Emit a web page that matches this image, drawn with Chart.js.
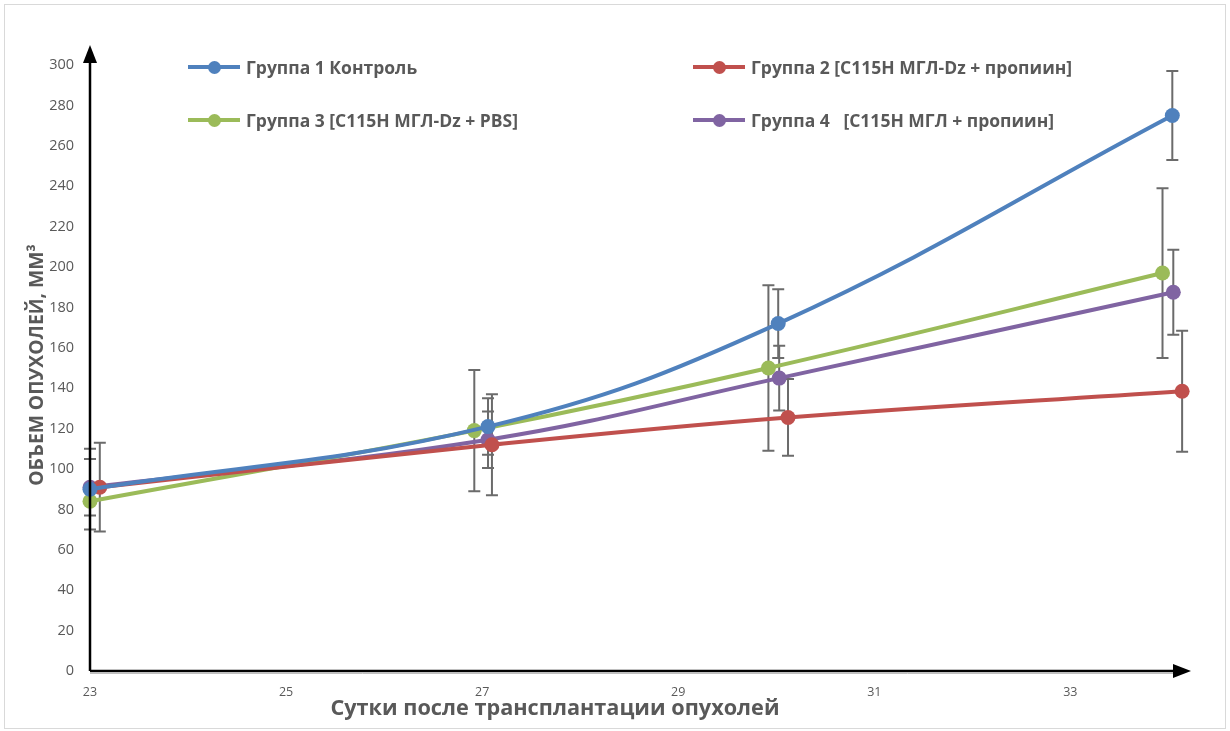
<!DOCTYPE html>
<html>
<head>
<meta charset="utf-8">
<script src="https://cdn.jsdelivr.net/npm/chart.js@4"></script>
<style>
  body { margin: 0; background: #fff; font-family: "Open Sans", sans-serif; }
  #wrap { position: relative; width: 1230px; height: 731px; }
  #frame { position: absolute; left: 4px; top: 4px; width: 1220px; height: 723px; border: 1px solid #d9d9d9; pointer-events: none; }
  .lg { position: absolute; display: flex; align-items: center; font-weight: bold; font-size: 17.5px; color: #595959; white-space: pre; }
  .lg .ln { position: relative; width: 52px; height: 4px; margin-right: 6px; }
  .lg .dot { position: absolute; left: 20px; top: -4.5px; width: 13px; height: 13px; border-radius: 50%; }
  #ytitle { position: absolute; left: 35px; top: 365px; transform: translate(-50%, -50%) rotate(-90deg); font-weight: bold; font-size: 19.3px; color: #595959; white-space: nowrap; }
  #xtitle { position: absolute; left: 555px; top: 706px; transform: translate(-50%, -50%); font-weight: bold; font-size: 21.7px; color: #595959; white-space: nowrap; }
</style>
</head>
<body>
<div id="wrap">
  <canvas id="chart" width="1230" height="731"></canvas>
  <div id="frame"></div>
  <div id="legend"></div>
  <div id="ytitle">ОБЪЕМ ОПУХОЛЕЙ, ММ³</div>
  <div id="xtitle">Сутки после трансплантации опухолей</div>
</div>
<script>
// tick labels
const xTicks = [23, 25, 27, 29, 31, 33];
const yTicks = [0, 20, 40, 60, 80, 100, 120, 140, 160, 180, 200, 220, 240, 260, 280, 300];

// series names
const names = [
  "Группа 1 Контроль",
  "Группа 2 [С115Н МГЛ-Dz + пропиин]",
  "Группа 3 [С115Н МГЛ-Dz + PBS]",
  "Группа 4   [С115Н МГЛ + пропиин]"
];
const colors = ["#4F81BD", "#C0504D", "#9BBB59", "#8064A2"];

// days (slightly shifted per group as in the original)
const days1 = [23, 27.06, 30.02, 34.04];
const days2 = [23.1, 27.1, 30.12, 34.14];
const days3 = [23, 26.92, 29.92, 33.94];
const days4 = [23, 27.06, 30.03, 34.05];

// tumour volume, mm3
const vol1 = [90, 121, 172, 275];
const vol2 = [91, 112, 125.5, 138.5];
const vol3 = [84, 119, 150, 197];
const vol4 = [91, 114.5, 145, 187.5];

// error (+/-)
const err1 = [20, 14, 17, 22];
const err2 = [22, 25, 19, 30];
const err3 = [null, 30, 41, 42];
const err4 = [14, 14, 16, 21];

const allDays = [days1, days2, days3, days4];
const allVols = [vol1, vol2, vol3, vol4];
const allErrs = [err1, err2, err3, err4];

// legend (html, two columns)
const legendPos = [[188, 68], [693, 68], [188, 121], [693, 121]];
const legendEl = document.getElementById("legend");
names.forEach((n, i) => {
  const d = document.createElement("div");
  d.className = "lg";
  d.style.left = legendPos[i][0] + "px";
  d.style.top = (legendPos[i][1] - 13) + "px";
  d.innerHTML = '<span class="ln" style="background:' + colors[i] + '"><span class="dot" style="background:' + colors[i] + '"></span></span>';
  d.appendChild(document.createTextNode(n));
  legendEl.appendChild(d);
});

const errorBars = {
  id: "errorBars",
  beforeDatasetsDraw(chart) {
    const ctx = chart.ctx;
    const ys = chart.scales.y;
    ctx.save();
    ctx.strokeStyle = "#6b6b6b";
    ctx.lineWidth = 2;
    chart.data.datasets.forEach((ds, di) => {
      const meta = chart.getDatasetMeta(di);
      meta.data.forEach((pt, i) => {
        const e = allErrs[di][i];
        if (e == null) return;
        const v = allVols[di][i];
        const top = ys.getPixelForValue(v + e);
        const bot = ys.getPixelForValue(v - e);
        ctx.beginPath();
        ctx.moveTo(pt.x, top); ctx.lineTo(pt.x, bot);
        ctx.moveTo(pt.x - 6, top); ctx.lineTo(pt.x + 6, top);
        ctx.moveTo(pt.x - 6, bot); ctx.lineTo(pt.x + 6, bot);
        ctx.stroke();
      });
    });
    ctx.restore();
  }
};

const arrowAxes = {
  id: "arrowAxes",
  afterDraw(chart) {
    const ctx = chart.ctx;
    const a = chart.chartArea;
    ctx.save();
    // excel's grey axis under the drawn one
    ctx.strokeStyle = "#bfbfbf";
    ctx.lineWidth = 1;
    ctx.beginPath();
    ctx.moveTo(a.left, a.bottom + 2.5); ctx.lineTo(1180, a.bottom + 2.5);
    ctx.stroke();
    ctx.strokeStyle = "#000";
    ctx.fillStyle = "#000";
    ctx.lineWidth = 2.5;
    ctx.beginPath();
    ctx.moveTo(a.left, a.bottom); ctx.lineTo(a.left, 58);
    ctx.moveTo(a.left, a.bottom); ctx.lineTo(1178, a.bottom);
    ctx.stroke();
    ctx.beginPath();
    ctx.moveTo(a.left, 45); ctx.lineTo(a.left - 7, 63); ctx.lineTo(a.left + 7, 63);
    ctx.closePath(); ctx.fill();
    ctx.beginPath();
    ctx.moveTo(1191, a.bottom); ctx.lineTo(1173, a.bottom - 7); ctx.lineTo(1173, a.bottom + 7);
    ctx.closePath(); ctx.fill();
    ctx.restore();
  }
};

new Chart(document.getElementById("chart"), {
  type: "line",
  data: {
    datasets: names.map((n, i) => ({
      label: n,
      data: allDays[i].map((d, j) => ({ x: d, y: allVols[i][j] })),
      borderColor: colors[i],
      backgroundColor: colors[i],
      borderWidth: 4,
      tension: 0.4,
      clip: false,
      pointRadius: 7.5,
      pointBorderWidth: 0,
      pointBackgroundColor: colors[i],
    })),
  },
  options: {
    responsive: false,
    animation: false,
    layout: { padding: { top: 65, right: 42, bottom: 0, left: 0 } },
    plugins: { legend: { display: false }, tooltip: { enabled: false } },
    scales: {
      x: {
        type: "linear",
        min: 23,
        max: 34.2,
        grid: { display: false, drawTicks: false },
        border: { display: false },
        afterBuildTicks(s) { s.ticks = xTicks.map(v => ({ value: v })); },
        afterFit(s) { s.height = 60; },
        ticks: { padding: 14, color: "#595959", font: { family: "Open Sans", size: 12.5 }, maxRotation: 0 },
      },
      y: {
        min: 0,
        max: 300,
        grid: { display: false, drawTicks: false },
        border: { display: false },
        afterBuildTicks(s) { s.ticks = yTicks.map(v => ({ value: v })); },
        afterFit(s) { s.width = 90; },
        ticks: { padding: 16, color: "#595959", font: { family: "Open Sans", size: 14.5 } },
      },
    },
  },
  plugins: [errorBars, arrowAxes],
});
</script>
</body>
</html>
